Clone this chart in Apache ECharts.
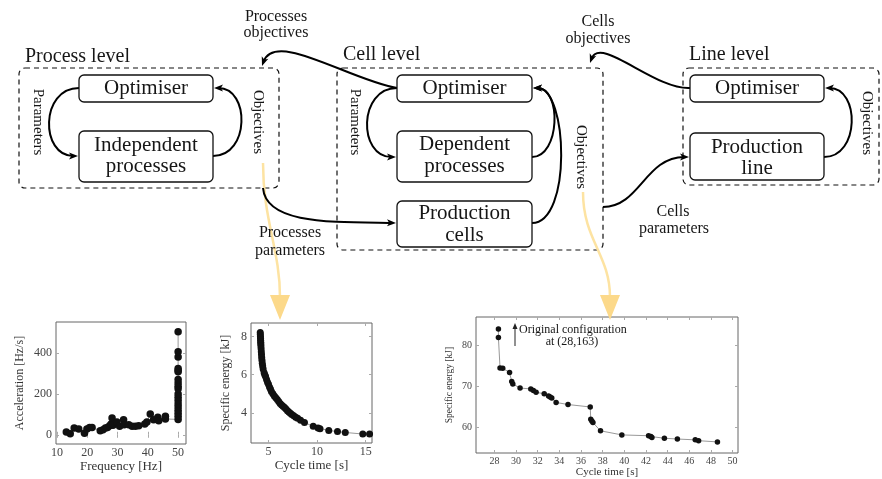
<!DOCTYPE html>
<html>
<head>
<meta charset="utf-8">
<script src="https://cdn.jsdelivr.net/npm/echarts@6/dist/echarts.min.js"></script>
<style>
  html, body { margin: 0; padding: 0; background: #fff; }
  #chart { width: 882px; height: 479px; }
</style>
</head>
<body>
<div id="chart"></div>
<script>
// process level: frequency vs acceleration
const freqHz = [13.1, 14.4, 15.7, 17.2, 19.1, 19.9, 20.8, 21.6, 24.3, 25.2, 26, 26.7, 27.4, 27.9, 28.2, 28.5,
  29.8, 30.7, 32, 32.2, 33.7, 34.8, 35.9, 37, 39, 39.7, 40.8, 41.9, 43.3, 43.6, 45.8, 45.8,
  50, 50, 50, 50, 50, 50, 50, 50, 50, 50, 50, 50, 50, 50, 50, 50, 50, 50, 50];
const accelHz = [13, 5, 33, 28, 8, 28, 36, 36, 20, 24, 33, 36, 44, 52, 82, 46,
  62, 41, 73, 49, 49, 41, 41, 44, 52, 62, 101, 73, 85, 69, 90, 77,
  75, 90, 105, 120, 135, 150, 167, 183, 199, 225, 237, 253, 269, 307, 313, 323, 379, 405, 503];

// cell level: cycle time vs specific energy (processes)
const cycleProc = [4.15, 4.16, 4.17, 4.18, 4.19, 4.2, 4.21, 4.22, 4.24, 4.26, 4.28, 4.3, 4.33, 4.36, 4.4, 4.45,
  4.55, 4.62, 4.7, 4.8, 4.9, 5.0, 5.1, 5.2, 5.3, 5.45, 5.6, 5.75, 5.9, 6.05, 6.2, 6.35, 6.5, 6.65,
  6.8, 6.95, 7.1, 7.25, 7.4, 7.6, 7.8, 8.0, 8.3, 8.7, 9.6, 10.1, 10.3, 11.2, 12.1, 12.9, 14.7, 15.4];
const energyProc = [8.2, 8.1, 8.0, 7.9, 7.8, 7.7, 7.6, 7.5, 7.35, 7.2, 7.05, 6.9, 6.75, 6.6, 6.45, 6.3,
  6.1, 6.0, 5.9, 5.75, 5.6, 5.5, 5.35, 5.25, 5.12, 5.0, 4.88, 4.8, 4.7, 4.6, 4.5, 4.42, 4.35, 4.28,
  4.2, 4.12, 4.05, 3.98, 3.92, 3.85, 3.78, 3.72, 3.62, 3.5, 3.3, 3.22, 3.18, 3.08, 3.03, 2.98, 2.9, 2.9];

// line level: cycle time vs specific energy (cells)
const cycleCell = [28.37, 28.37, 28.52, 28.77, 29.4, 29.6, 29.7, 30.37, 31.36, 31.6, 31.85, 32.6, 33.0, 33.15,
  33.3, 33.7, 34.8, 36.85, 36.9, 37.0, 37.1, 37.8, 39.77, 42.24, 42.45, 42.55, 43.7, 44.9, 46.55, 46.86, 48.6];
const energyCell = [84, 81.9, 74.5, 74.4, 73.4, 71.2, 70.6, 69.6, 69.4, 69.0, 68.6, 68.2, 67.7, 67.4,
  67.2, 66.1, 65.6, 65.0, 62, 61.6, 61.2, 59.2, 58.2, 58.0, 57.8, 57.6, 57.4, 57.2, 57.0, 56.8, 56.5];

const freqTicks = [10, 20, 30, 40, 50];
const accelTicks = [0, 200, 400];
const cycleProcTicks = [5, 10, 15];
const energyProcTicks = [4, 6, 8];
const cycleCellTicks = [28, 30, 32, 34, 36, 38, 40, 42, 44, 46, 48, 50];
const energyCellTicks = [60, 70, 80];

const SERIF = '"Liberation Serif", "DejaVu Serif", serif';

function zip(a, b) { return a.map((v, i) => [v, b[i]]); }

function axisPair(dim, gi, min, max, ticks, name, nameSize, nameGap, labelSize, margin) {
  const tick = { show: true, inside: true, length: 3, customValues: ticks, lineStyle: { color: '#aaa' } };
  const main = {
    type: 'value', gridIndex: gi, min: min, max: max,
    position: dim === 'x' ? 'bottom' : 'left',
    name: name, nameLocation: 'middle', nameGap: nameGap,
    nameTextStyle: { fontFamily: SERIF, fontSize: nameSize, color: '#333' },
    axisLine: { show: false }, splitLine: { show: false }, axisTick: tick,
    axisLabel: { customValues: ticks, margin: margin, fontFamily: SERIF, fontSize: labelSize, color: '#444' }
  };
  const mirror = {
    type: 'value', gridIndex: gi, min: min, max: max,
    position: dim === 'x' ? 'top' : 'right',
    axisLine: { show: false }, splitLine: { show: false }, axisTick: tick,
    axisLabel: { show: false }
  };
  return [main, mirror];
}

const xAxes = [].concat(
  axisPair('x', 0, 9.7, 52.6, freqTicks, 'Frequency [Hz]', 13, 14, 12, 3),
  axisPair('x', 1, 3.2, 15.65, cycleProcTicks, 'Cycle time [s]', 13, 14, 12, 3),
  axisPair('x', 2, 26.3, 50.5, cycleCellTicks, 'Cycle time [s]', 11, 14, 10, 3)
);
const yAxes = [].concat(
  axisPair('y', 0, -45, 550, accelTicks, 'Acceleration [Hz/s]', 12, 30, 12, 4),
  axisPair('y', 1, 2.43, 8.7, energyProcTicks, 'Specific energy [kJ]', 12, 19, 12, 4),
  axisPair('y', 2, 53.8, 86.9, energyCellTicks, 'Specific energy [kJ]', 9.5, 22, 10, 4)
);

function dots(xi, yi, data, size) {
  return {
    type: 'line', xAxisIndex: xi, yAxisIndex: yi, data: data,
    symbol: 'circle', symbolSize: size, showSymbol: true,
    itemStyle: { color: '#111' }, lineStyle: { color: '#999', width: 1 }, z: 3
  };
}

// ---- diagram drawn with graphic elements
const g = [];
function txt(x, y, s, size, rot) {
  g.push({ type: 'text', x: x, y: y, rotation: rot || 0, z: 10,
    style: { text: s, font: size + 'px ' + SERIF, fill: '#161616',
      align: 'center', verticalAlign: 'middle', textAlign: 'center', textVerticalAlign: 'middle' } });
}
function ltxt(x, y, s, size) {
  g.push({ type: 'text', x: x, y: y, z: 10,
    style: { text: s, font: size + 'px ' + SERIF, fill: '#161616',
      align: 'left', verticalAlign: 'middle', textAlign: 'left', textVerticalAlign: 'middle' } });
}
function rbox(x, y, w, h, r, dashed) {
  g.push({ type: 'rect', shape: { x: x, y: y, width: w, height: h, r: r }, z: dashed ? 1 : 7,
    style: { fill: dashed ? 'none' : '#fff', stroke: '#111', lineWidth: dashed ? 1.2 : 1.3,
      lineDash: dashed ? [5, 4] : null } });
}
function arrow(p0, c1, c2, p1, opt) {
  opt = opt || {};
  const col = opt.color || '#000', lw = opt.width || 2, len = opt.len || 9, wid = opt.wid || 7;
  let dx = p1[0] - c2[0], dy = p1[1] - c2[1];
  const L = Math.hypot(dx, dy); dx /= L; dy /= L;
  const end = opt.head === false ? p1 : [p1[0] - dx * len * 0.5, p1[1] - dy * len * 0.5];
  g.push({ type: 'bezierCurve', z: opt.z || 5,
    shape: { x1: p0[0], y1: p0[1], cpx1: c1[0], cpy1: c1[1], cpx2: c2[0], cpy2: c2[1], x2: end[0], y2: end[1] },
    style: { stroke: col, lineWidth: lw, fill: 'none' } });
  if (opt.head !== false) {
    const bx = p1[0] - dx * len, by = p1[1] - dy * len, px = -dy, py = dx;
    g.push({ type: 'polygon', z: 6, shape: { points: [
      [p1[0], p1[1]], [bx + px * wid / 2, by + py * wid / 2],
      [p1[0] - dx * len * 0.75, p1[1] - dy * len * 0.75], [bx - px * wid / 2, by - py * wid / 2]] },
      style: { fill: col } });
  }
}

// process level
rbox(19, 68, 260, 120, 6, true);
ltxt(25, 57, 'Process level', 20);
rbox(79, 75, 134, 27, 5);
txt(146, 88.5, 'Optimiser', 21);
rbox(79, 131, 134, 51, 5);
txt(146, 145, 'Independent', 21);
txt(146, 166, 'processes', 21);
txt(37.5, 122, 'Parameters', 15, -Math.PI / 2);
txt(257.5, 122, 'Objectives', 15, -Math.PI / 2);
arrow([79, 88], [40, 88], [40, 156], [78, 156]);
arrow([213, 156], [250, 156], [250, 88], [214, 88]);

// cell level
rbox(337, 68, 266, 182, 6, true);
ltxt(343, 55, 'Cell level', 20);
rbox(397, 75, 135, 27, 5);
txt(464.5, 88.5, 'Optimiser', 21);
rbox(397, 131, 135, 51, 5);
txt(464.5, 144, 'Dependent', 21);
txt(464.5, 166, 'processes', 21);
rbox(397, 201, 135, 46, 5);
txt(464.5, 213, 'Production', 21);
txt(464.5, 235, 'cells', 21);
txt(354.5, 122, 'Parameters', 15, -Math.PI / 2);
txt(581, 157, 'Objectives', 15, -Math.PI / 2);
arrow([397, 88], [358, 88], [358, 157], [396, 157]);
arrow([532, 157], [560, 157], [562, 88], [533, 88]);
arrow([532, 223], [572, 223], [568, 88], [533, 88]);

// line level
rbox(683, 68, 196, 117, 6, true);
ltxt(689, 55, 'Line level', 20);
rbox(690, 75, 134, 27, 5);
txt(757, 88.5, 'Optimiser', 21);
rbox(690, 133, 134, 47, 5);
txt(757, 147, 'Production', 21);
txt(757, 168, 'line', 21);
txt(867, 123, 'Objectives', 15, -Math.PI / 2);
arrow([824, 157], [860, 157], [860, 88], [825, 88]);

// links between levels
arrow([397, 88], [350, 80], [275, 30], [262, 66]);
txt(276, 17, 'Processes', 16);
txt(276, 33, 'objectives', 16);
arrow([690, 88], [655, 90], [600, 35], [590, 63]);
txt(598, 22, 'Cells', 16);
txt(598, 39, 'objectives', 16);
arrow([263, 188], [266, 224], [330, 222], [396, 223]);
txt(290, 233, 'Processes', 16);
txt(290, 251, 'parameters', 16);
arrow([603, 207], [640, 207], [645, 157], [689, 157]);
txt(673, 212, 'Cells', 16);
txt(674, 229, 'parameters', 16);

// yellow pointers to the plots
arrow([263, 163], [263, 220], [280, 250], [280, 297], { color: '#fde3a2', width: 2.5, head: false, z: 4 });
g.push({ type: 'polygon', z: 4, shape: { points: [[270, 295], [290, 295], [280, 320]] }, style: { fill: '#fcd98a' } });
arrow([583, 192], [583, 240], [610, 255], [610, 297], { color: '#fde3a2', width: 2.5, head: false, z: 4 });
g.push({ type: 'polygon', z: 4, shape: { points: [[600, 295], [620, 295], [610, 320]] }, style: { fill: '#fcd98a' } });

// annotation in the line level plot
g.push({ type: 'line', z: 10, shape: { x1: 515, y1: 346, x2: 515, y2: 327 }, style: { stroke: '#222', lineWidth: 1 } });
g.push({ type: 'polygon', z: 10, shape: { points: [[515, 323], [512.5, 329], [517.5, 329]] }, style: { fill: '#222' } });
ltxt(519, 329.5, 'Original configuration', 12);
txt(572, 341.5, 'at (28,163)', 12);

const chart = echarts.init(document.getElementById('chart'));
chart.setOption({
  animation: false,
  backgroundColor: '#fff',
  grid: [
    { left: 56, top: 322, width: 130, height: 122, show: true, borderColor: '#666', borderWidth: 1 },
    { left: 251, top: 323, width: 121, height: 120, show: true, borderColor: '#666', borderWidth: 1 },
    { left: 476, top: 317, width: 262, height: 138, show: true, borderColor: '#666', borderWidth: 1 }
  ],
  xAxis: xAxes,
  yAxis: yAxes,
  series: [
    dots(0, 0, zip(freqHz, accelHz), 7.5),
    dots(2, 2, zip(cycleProc, energyProc), 7),
    dots(4, 4, zip(cycleCell, energyCell), 5.5)
  ],
  graphic: { elements: g }
});
</script>
</body>
</html>
